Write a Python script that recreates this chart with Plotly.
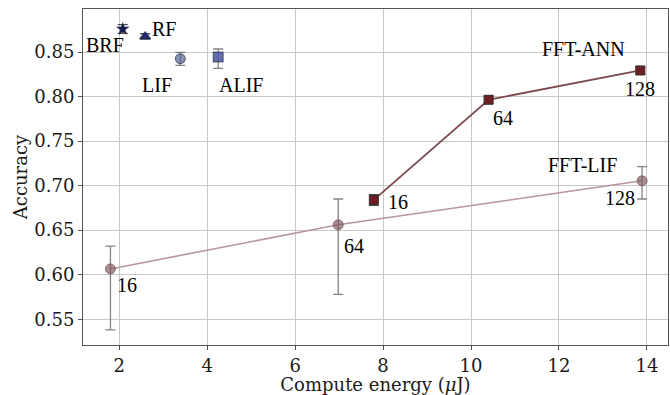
import plotly.graph_objects as go

# ---- data ----
single_names = ["BRF", "RF", "LIF", "ALIF"]
single_energy = [2.08, 2.59, 3.39, 4.25]
single_acc = [0.8758, 0.8675, 0.8425, 0.8444]
single_err_plus = [0.0050, 0.0030, 0.0071, 0.0090]
single_err_minus = [0.0048, 0.0030, 0.0075, 0.0128]
single_symbols = ["star", "triangle-up", "circle", "square"]
single_colors = ["rgba(20,25,80,1)", "rgba(35,40,110,1)", "rgba(95,110,150,0.75)", "rgba(70,85,160,0.85)"]

fft_sizes = ["16", "64", "128"]
ann_energy = [7.79, 10.40, 13.85]
ann_acc = [0.684, 0.7964, 0.8293]
ann_err = [0.006, 0.004, 0.004]

lif_energy = [1.80, 6.98, 13.89]
lif_acc = [0.6065, 0.656, 0.7054]
lif_err_plus = [0.0255, 0.029, 0.016]
lif_err_minus = [0.0685, 0.078, 0.0204]

x_ticks = [2, 4, 6, 8, 10, 12, 14]
y_ticks = [0.55, 0.60, 0.65, 0.70, 0.75, 0.80, 0.85]

# ---- figure ----
fig = go.Figure()
ERR = "rgba(110,110,110,0.85)"

fig.add_trace(go.Scatter(
    x=lif_energy, y=lif_acc, mode="lines+markers",
    line=dict(color="#b8979b", width=1.6),
    marker=dict(symbol="circle", size=10, color="rgba(125,85,92,0.65)",
                line=dict(color="rgba(110,80,85,0.7)", width=1)),
    error_y=dict(type="data", symmetric=False, array=lif_err_plus, arrayminus=lif_err_minus,
                 color=ERR, thickness=1.3, width=5),
    showlegend=False))

fig.add_trace(go.Scatter(
    x=ann_energy, y=ann_acc, mode="lines+markers",
    line=dict(color="#7b4a50", width=1.8),
    marker=dict(symbol="square", size=9, color="#6b1f24",
                line=dict(color="#3a2a2a", width=1)),
    error_y=dict(type="data", array=ann_err, color="rgba(50,50,50,0.9)", thickness=1.3, width=5),
    showlegend=False))

for i, name in enumerate(single_names):
    fig.add_trace(go.Scatter(
        x=[single_energy[i]], y=[single_acc[i]], mode="markers",
        marker=dict(symbol=single_symbols[i], size=10 if single_symbols[i] != "star" else 9,
                    color=single_colors[i], line=dict(color="rgba(30,30,60,0.8)", width=0.8)),
        error_y=dict(type="data", symmetric=False, array=[single_err_plus[i]],
                     arrayminus=[single_err_minus[i]],
                     color="rgba(60,60,60,0.9)" if i < 2 else ERR, thickness=1.3, width=5),
        showlegend=False))

FONT = dict(family="Liberation Serif, Times New Roman, serif", size=20, color="black")
ann = []
# text offsets in pixels (label placement)
single_shift = [(-18, 16), (19, -7), (-23, 26), (23, 28)]
for i, name in enumerate(single_names):
    dx, dy = single_shift[i]
    ann.append(dict(x=single_energy[i], y=single_acc[i], text=name, showarrow=False,
                    xshift=dx, yshift=-dy, font=FONT))
ann_shift = [(24, 2), (14, 18), (0, 19)]
lif_shift = [(17, 16), (16, 21), (-22, 17)]
for i, s in enumerate(fft_sizes):
    dx, dy = ann_shift[i]
    ann.append(dict(x=ann_energy[i], y=ann_acc[i], text=s, showarrow=False,
                    xshift=dx, yshift=-dy, font=FONT))
    dx, dy = lif_shift[i]
    ann.append(dict(x=lif_energy[i], y=lif_acc[i], text=s, showarrow=False,
                    xshift=dx, yshift=-dy, font=FONT))
ann.append(dict(x=ann_energy[-1], y=ann_acc[-1], text="FFT-ANN", showarrow=False,
                xshift=-57, yshift=21, font=FONT))
ann.append(dict(x=lif_energy[-1], y=lif_acc[-1], text="FFT-LIF", showarrow=False,
                xshift=-60, yshift=16, font=FONT))

AX_FONT = dict(family="DejaVu Serif, serif", size=18, color="#1a1a1a")
fig.update_layout(
    width=670, height=395,
    margin=dict(l=83, r=2, t=9, b=50),
    paper_bgcolor="white", plot_bgcolor="white",
    annotations=ann,
    xaxis=dict(range=[1.176, 14.48], tickvals=x_ticks, ticktext=[str(v) for v in x_ticks],
               showgrid=True, gridcolor="#c8c8c8", gridwidth=1, zeroline=False,
               showline=True, linecolor="#555", linewidth=1, mirror=True,
               ticks="outside", ticklen=4, tickcolor="#555", tickfont=AX_FONT,
               title=dict(text="Compute energy (<i>μ</i>J)", font=AX_FONT, standoff=6)),
    yaxis=dict(range=[0.5211, 0.8983], tickvals=y_ticks, ticktext=[f"{v:.2f}" for v in y_ticks],
               showgrid=True, gridcolor="#c8c8c8", gridwidth=1, zeroline=False,
               showline=True, linecolor="#555", linewidth=1, mirror=True,
               ticks="outside", ticklen=4, tickcolor="#555", tickfont=AX_FONT,
               title=dict(text="Accuracy", font=AX_FONT, standoff=2)),
)

fig.write_html("out.html")
